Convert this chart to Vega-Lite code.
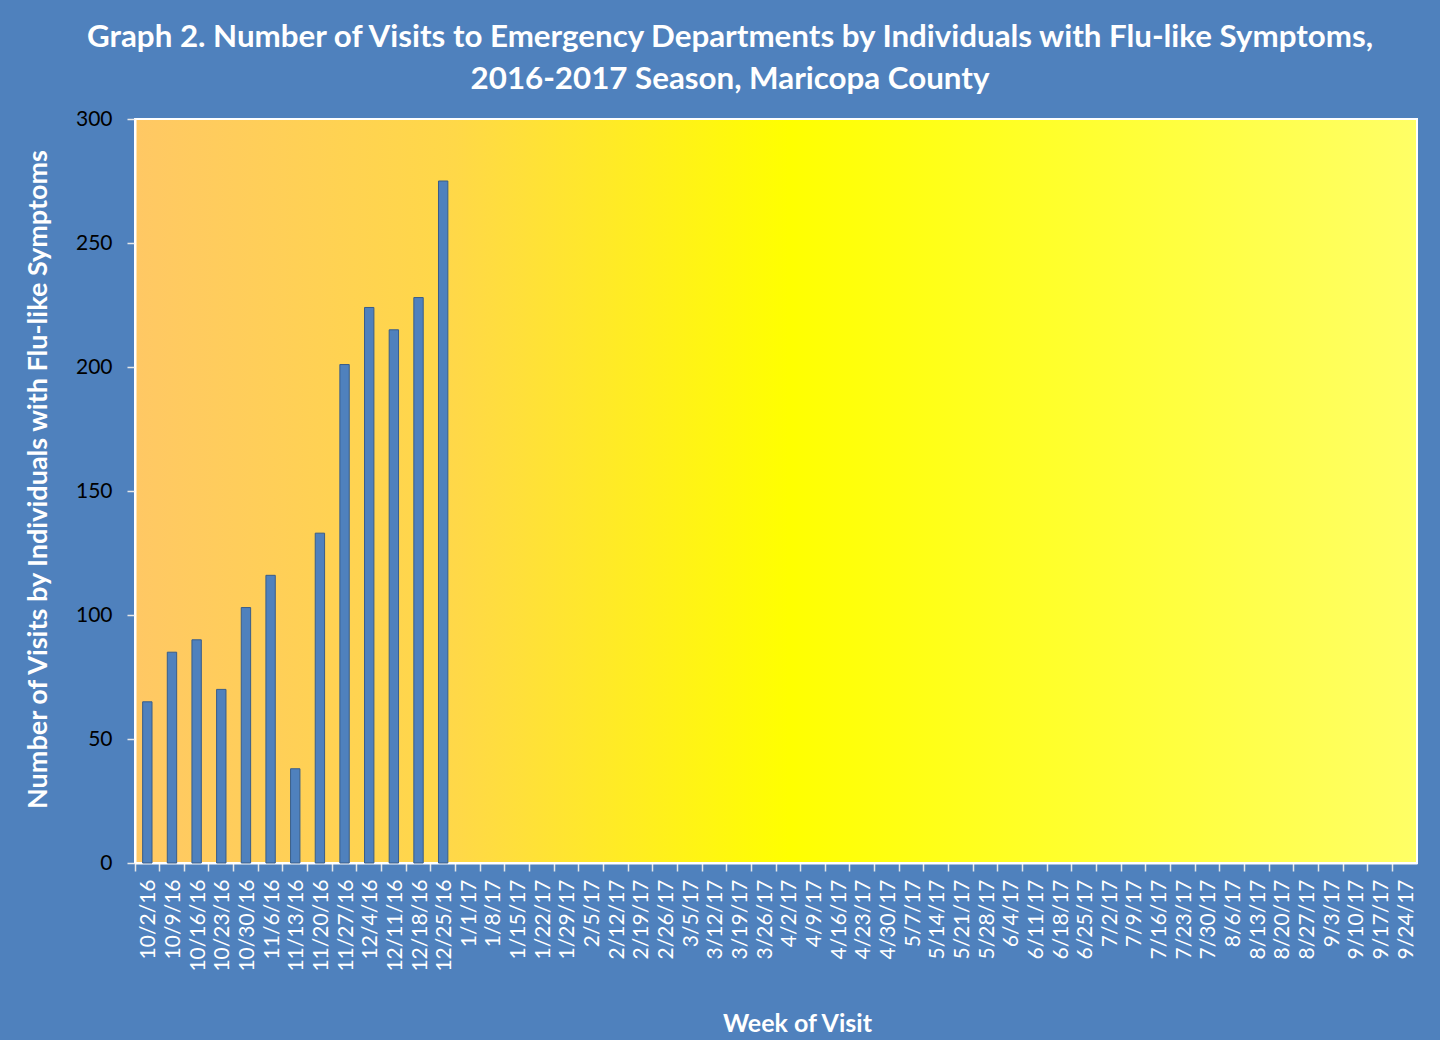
{
  "$schema": "https://vega.github.io/schema/vega-lite/v6.json",
  "width": 1282,
  "height": 744,
  "autosize": {"type": "none"},
  "padding": {"left": 135, "top": 119, "right": 23, "bottom": 177},
  "background": "#4F81BD",
  "title": {
    "text": ["Graph 2. Number of Visits to Emergency Departments by Individuals with Flu-like Symptoms,", "2016-2017 Season, Maricopa County"],
    "anchor": "middle",
    "frame": "group",
    "dx": -46,
    "offset": 13,
    "font": "Lato",
    "fontSize": 31.3,
    "fontWeight": "bold",
    "color": "#FFFFFF",
    "lineHeight": 42
  },
  "data": {
    "values": [
      {"week": "10/2/16", "visits": 65},
      {"week": "10/9/16", "visits": 85},
      {"week": "10/16/16", "visits": 90},
      {"week": "10/23/16", "visits": 70},
      {"week": "10/30/16", "visits": 103},
      {"week": "11/6/16", "visits": 116},
      {"week": "11/13/16", "visits": 38},
      {"week": "11/20/16", "visits": 133},
      {"week": "11/27/16", "visits": 201},
      {"week": "12/4/16", "visits": 224},
      {"week": "12/11/16", "visits": 215},
      {"week": "12/18/16", "visits": 228},
      {"week": "12/25/16", "visits": 275},
      {"week": "1/1/17", "visits": null},
      {"week": "1/8/17", "visits": null},
      {"week": "1/15/17", "visits": null},
      {"week": "1/22/17", "visits": null},
      {"week": "1/29/17", "visits": null},
      {"week": "2/5/17", "visits": null},
      {"week": "2/12/17", "visits": null},
      {"week": "2/19/17", "visits": null},
      {"week": "2/26/17", "visits": null},
      {"week": "3/5/17", "visits": null},
      {"week": "3/12/17", "visits": null},
      {"week": "3/19/17", "visits": null},
      {"week": "3/26/17", "visits": null},
      {"week": "4/2/17", "visits": null},
      {"week": "4/9/17", "visits": null},
      {"week": "4/16/17", "visits": null},
      {"week": "4/23/17", "visits": null},
      {"week": "4/30/17", "visits": null},
      {"week": "5/7/17", "visits": null},
      {"week": "5/14/17", "visits": null},
      {"week": "5/21/17", "visits": null},
      {"week": "5/28/17", "visits": null},
      {"week": "6/4/17", "visits": null},
      {"week": "6/11/17", "visits": null},
      {"week": "6/18/17", "visits": null},
      {"week": "6/25/17", "visits": null},
      {"week": "7/2/17", "visits": null},
      {"week": "7/9/17", "visits": null},
      {"week": "7/16/17", "visits": null},
      {"week": "7/23/17", "visits": null},
      {"week": "7/30/17", "visits": null},
      {"week": "8/6/17", "visits": null},
      {"week": "8/13/17", "visits": null},
      {"week": "8/20/17", "visits": null},
      {"week": "8/27/17", "visits": null},
      {"week": "9/3/17", "visits": null},
      {"week": "9/10/17", "visits": null},
      {"week": "9/17/17", "visits": null},
      {"week": "9/24/17", "visits": null}
    ]
  },
  "mark": {"type": "bar", "fill": "#4F81BD", "stroke": "#385D8A", "strokeWidth": 1, "width": {"band": 0.38}},
  "encoding": {
    "x": {
      "field": "week",
      "type": "ordinal",
      "sort": null,
      "scale": {
        "domain": ["10/2/16","10/9/16","10/16/16","10/23/16","10/30/16","11/6/16","11/13/16","11/20/16","11/27/16","12/4/16","12/11/16","12/18/16","12/25/16","1/1/17","1/8/17","1/15/17","1/22/17","1/29/17","2/5/17","2/12/17","2/19/17","2/26/17","3/5/17","3/12/17","3/19/17","3/26/17","4/2/17","4/9/17","4/16/17","4/23/17","4/30/17","5/7/17","5/14/17","5/21/17","5/28/17","6/4/17","6/11/17","6/18/17","6/25/17","7/2/17","7/9/17","7/16/17","7/23/17","7/30/17","8/6/17","8/13/17","8/20/17","8/27/17","9/3/17","9/10/17","9/17/17","9/24/17"],
        "paddingInner": 0,
        "paddingOuter": 0
      },
      "axis": {
        "title": "Week of Visit",
        "titleFont": "Lato",
        "titleFontSize": 25,
        "titleFontWeight": "bold",
        "titleColor": "#FFFFFF",
        "titleX": 662,
        "titleY": 160,
        "titleBaseline": "middle",
        "labelAngle": -90,
        "labelFont": "Lato",
        "labelFontSize": 21,
        "labelColor": "#FFFFFF",
        "labelPadding": 8,
        "labelOffset": 2,
        "bandPosition": 0,
        "domainColor": "#FFFFFF",
        "domainWidth": 2,
        "tickColor": "#E8E8E8",
        "tickSize": 8,
        "tickWidth": 1.5,
        "grid": false
      }
    },
    "y": {
      "field": "visits",
      "type": "quantitative",
      "scale": {"domain": [0, 300], "nice": false},
      "axis": {
        "title": "Number of Visits by Individuals with Flu-like Symptoms",
        "titleFont": "Lato",
        "titleFontSize": 27,
        "titleFontWeight": "bold",
        "titleColor": "#FFFFFF",
        "titleX": -97,
        "titleY": 360,
        "titleAngle": -90,
        "titleBaseline": "middle",
        "titleAlign": "center",
        "values": [0, 50, 100, 150, 200, 250, 300],
        "labelFont": "Lato",
        "labelFontSize": 21,
        "labelColor": "#000000",
        "labelPadding": 15,
        "domainColor": "#FFFFFF",
        "domainWidth": 2,
        "tickColor": "#E8E8E8",
        "tickSize": 8,
        "tickWidth": 1.5,
        "grid": false
      }
    }
  },
  "config": {
    "view": {
      "stroke": "#FFFFFF",
      "strokeWidth": 2,
      "fill": {
        "gradient": "linear",
        "x1": 0, "y1": 0, "x2": 1, "y2": 0,
        "stops": [
          {"offset": 0, "color": "#FFC864"},
          {"offset": 0.25, "color": "#FFD848"},
          {"offset": 0.51, "color": "#FFFF00"},
          {"offset": 1, "color": "#FFFF66"}
        ]
      }
    }
  }
}
